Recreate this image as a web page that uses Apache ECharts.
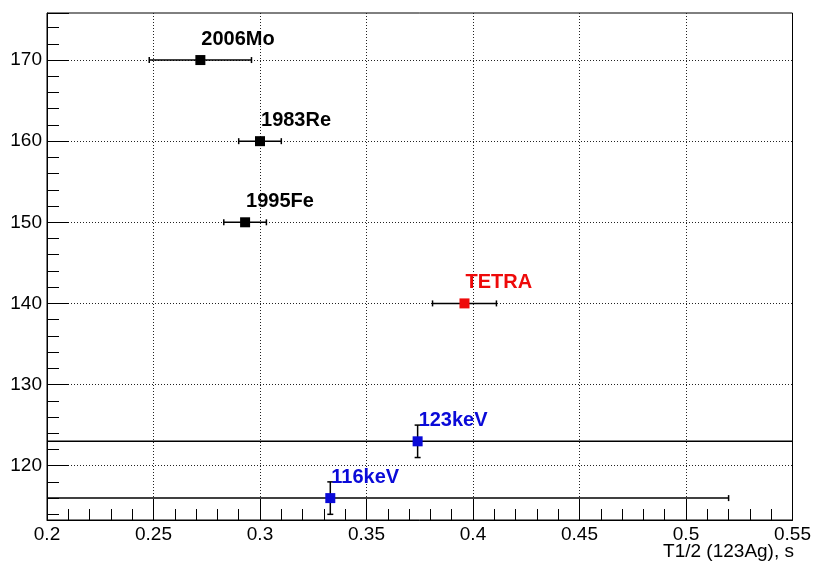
<!DOCTYPE html>
<html>
<head>
<meta charset="utf-8">
<script src="https://cdn.jsdelivr.net/npm/echarts@6/dist/echarts.min.js"></script>
<style>
  html, body { margin: 0; padding: 0; background: #fff; }
  #main { width: 814px; height: 566px; }
</style>
</head>
<body>
<div id="main"></div>
<script>
// points
var names = ['2006Mo', '1983Re', '1995Fe', 'TETRA', '123keV', '116keV'];
var kinds = ['lit', 'lit', 'lit', 'tetra', 'level', 'level'];
var halfLife = [0.272, 0.300, 0.293, 0.396, 0.374, 0.333];
var halfLifeErr = [0.024, 0.010, 0.010, 0.015, 0.19, 0.187];
var energy = [170, 160, 150, 140, 123, 116];
var energyErr = [0, 0, 0, 0, 2, 2];

// axis ranges
var xRange = [0.2, 0.55];
var xStep = 0.05;
var yRange = [113.3, 175.8];
var xTitle = 'T1/2 (123Ag), s';

var kindColor = { lit: '#000', tetra: '#ee0a0a', level: '#0a0ad8' };
var font = '"Liberation Sans", Arial, sans-serif';

var errData = names.map(function (n, i) {
  return [halfLife[i], energy[i], halfLifeErr[i], energyErr[i]];
});

var pointData = names.map(function (n, i) {
  var c = kindColor[kinds[i]];
  return {
    name: n,
    value: [halfLife[i], energy[i]],
    itemStyle: { color: c, opacity: 1 },
    label: { color: c }
  };
});

function renderErr(params, api) {
  var x = api.value(0), y = api.value(1);
  var ex = api.value(2), ey = api.value(3);
  var cs = params.coordSys;
  var left = cs.x, right = cs.x + cs.width, top = cs.y, bottom = cs.y + cs.height;
  var c = api.coord([x, y]);
  var st = { stroke: '#000', lineWidth: 1.5 };
  var kids = [];
  var cap = 3;
  if (ex > 0) {
    var l = api.coord([x - ex, y])[0];
    var r = api.coord([x + ex, y])[0];
    kids.push({ type: 'line', shape: { x1: Math.max(l, left), y1: c[1], x2: Math.min(r, right), y2: c[1] }, style: st });
    if (l >= left) kids.push({ type: 'line', shape: { x1: l, y1: c[1] - cap, x2: l, y2: c[1] + cap }, style: st });
    if (r <= right) kids.push({ type: 'line', shape: { x1: r, y1: c[1] - cap, x2: r, y2: c[1] + cap }, style: st });
  }
  if (ey > 0) {
    var t = api.coord([x, y + ey])[1];
    var b = api.coord([x, y - ey])[1];
    kids.push({ type: 'line', shape: { x1: c[0], y1: Math.max(t, top), x2: c[0], y2: Math.min(b, bottom) }, style: st });
    kids.push({ type: 'line', shape: { x1: c[0] - cap, y1: t, x2: c[0] + cap, y2: t }, style: st });
    kids.push({ type: 'line', shape: { x1: c[0] - cap, y1: b, x2: c[0] + cap, y2: b }, style: st });
  }
  return { type: 'group', children: kids };
}

var myChart = echarts.init(document.getElementById('main'));
var option = {
  animation: false,
  backgroundColor: '#fff',
  grid: {
    left: 47, right: 20, top: 13, bottom: 46,
    show: true, borderColor: '#000', borderWidth: 1
  },
  xAxis: {
    type: 'value',
    min: xRange[0], max: xRange[1], interval: xStep,
    axisLine: { show: true, onZero: false, lineStyle: { color: '#000', width: 1 } },
    axisTick: { show: true, inside: true, length: 21, lineStyle: { color: '#000' } },
    minorTick: { show: true, splitNumber: 5, length: 11, lineStyle: { color: '#000' } },
    splitLine: { show: true, showMinLine: false, showMaxLine: false, lineStyle: { color: '#222', type: [1, 2] } },
    axisLabel: { color: '#000', fontSize: 19, fontFamily: font, margin: 5 }
  },
  yAxis: {
    type: 'value',
    min: yRange[0], max: yRange[1],
    axisLine: { show: true, onZero: false, lineStyle: { color: '#000', width: 1 } },
    axisTick: { show: true, inside: true, length: 22, lineStyle: { color: '#000' } },
    minorTick: { show: true, splitNumber: 5, length: 12, lineStyle: { color: '#000' } },
    splitLine: { show: true, showMinLine: false, showMaxLine: false, lineStyle: { color: '#222', type: [1, 2] } },
    axisLabel: { color: '#000', fontSize: 19, fontFamily: font, margin: 5, showMinLabel: false, showMaxLabel: false }
  },
  graphic: [{
    type: 'text', right: 20, top: 542,
    style: { text: xTitle, font: '19px ' + font, fill: '#000' }
  }],
  series: [{
    type: 'custom',
    renderItem: renderErr,
    data: errData,
    z: 2
  }, {
    type: 'scatter',
    symbol: 'rect',
    symbolSize: 10,
    data: pointData,
    z: 3,
    itemStyle: { opacity: 1 },
    label: {
      show: true,
      position: 'inside',
      align: 'left',
      verticalAlign: 'middle',
      offset: [1, -21],
      fontSize: 20,
      fontWeight: 'bold',
      fontFamily: font,
      formatter: function (p) { return p.name; }
    }
  }]
};
myChart.setOption(option);
</script>
</body>
</html>
